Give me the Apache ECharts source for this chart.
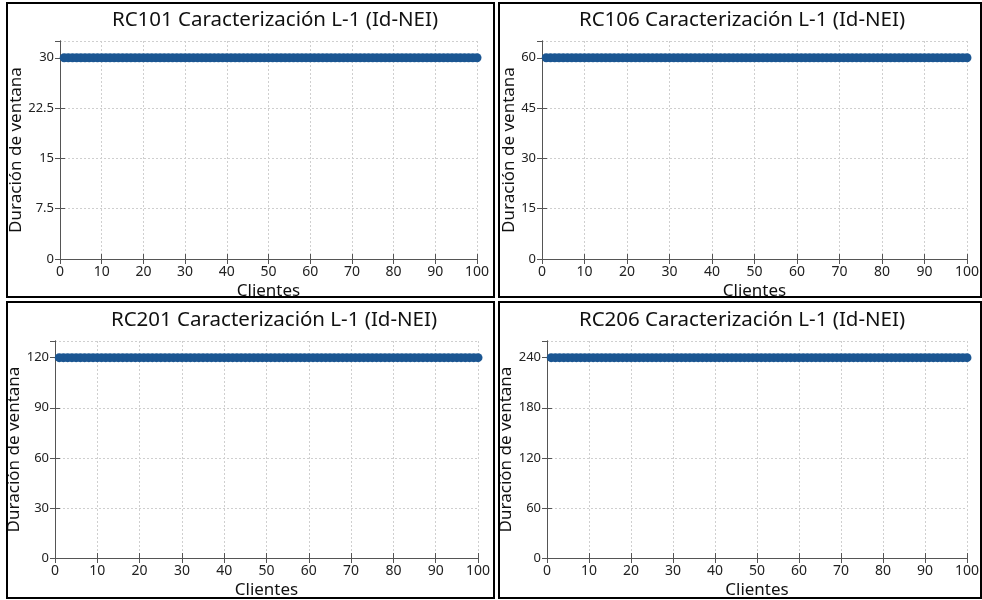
<!DOCTYPE html>
<html><head><meta charset="utf-8">
<script src="https://cdn.jsdelivr.net/npm/echarts@6/dist/echarts.min.js"></script>
<style>html,body{margin:0;padding:0;background:#fff}#c{width:982px;height:600px}</style>
</head><body><div id="c"></div>
<script>
const clientes = [1,2,3,4,5,6,7,8,9,10,11,12,13,14,15,16,17,18,19,20,21,22,23,24,25,26,27,28,29,30,31,32,33,34,35,36,37,38,39,40,41,42,43,44,45,46,47,48,49,50,51,52,53,54,55,56,57,58,59,60,61,62,63,64,65,66,67,68,69,70,71,72,73,74,75,76,77,78,79,80,81,82,83,84,85,86,87,88,89,90,91,92,93,94,95,96,97,98,99,100];
const rc101 = [30,30,30,30,30,30,30,30,30,30,30,30,30,30,30,30,30,30,30,30,30,30,30,30,30,30,30,30,30,30,30,30,30,30,30,30,30,30,30,30,30,30,30,30,30,30,30,30,30,30,30,30,30,30,30,30,30,30,30,30,30,30,30,30,30,30,30,30,30,30,30,30,30,30,30,30,30,30,30,30,30,30,30,30,30,30,30,30,30,30,30,30,30,30,30,30,30,30,30,30];
const rc106 = [60,60,60,60,60,60,60,60,60,60,60,60,60,60,60,60,60,60,60,60,60,60,60,60,60,60,60,60,60,60,60,60,60,60,60,60,60,60,60,60,60,60,60,60,60,60,60,60,60,60,60,60,60,60,60,60,60,60,60,60,60,60,60,60,60,60,60,60,60,60,60,60,60,60,60,60,60,60,60,60,60,60,60,60,60,60,60,60,60,60,60,60,60,60,60,60,60,60,60,60];
const rc201 = [120,120,120,120,120,120,120,120,120,120,120,120,120,120,120,120,120,120,120,120,120,120,120,120,120,120,120,120,120,120,120,120,120,120,120,120,120,120,120,120,120,120,120,120,120,120,120,120,120,120,120,120,120,120,120,120,120,120,120,120,120,120,120,120,120,120,120,120,120,120,120,120,120,120,120,120,120,120,120,120,120,120,120,120,120,120,120,120,120,120,120,120,120,120,120,120,120,120,120,120];
const rc206 = [240,240,240,240,240,240,240,240,240,240,240,240,240,240,240,240,240,240,240,240,240,240,240,240,240,240,240,240,240,240,240,240,240,240,240,240,240,240,240,240,240,240,240,240,240,240,240,240,240,240,240,240,240,240,240,240,240,240,240,240,240,240,240,240,240,240,240,240,240,240,240,240,240,240,240,240,240,240,240,240,240,240,240,240,240,240,240,240,240,240,240,240,240,240,240,240,240,240,240,240];
const titles = ['RC101 Caracterización L-1 (Id-NEI)','RC106 Caracterización L-1 (Id-NEI)','RC201 Caracterización L-1 (Id-NEI)','RC206 Caracterización L-1 (Id-NEI)'];
const seriesData = [rc101, rc106, rc201, rc206];
const yMax = [32.5, 65, 130, 260];
const yInterval = [7.5, 15, 30, 60];
const xName = 'Clientes';
const yName = 'Duración de ventana';

const FONT = 'Noto Sans';
const grids = [
  {left:60, top:41, width:417, height:218},
  {left:542, top:41, width:427, height:218},
  {left:55, top:341, width:423, height:218},
  {left:547, top:341, width:423, height:218}
];
const yNameGap = [33, 22, 28, 27];
const panels = [
  {x:7,y:3,w:487,h:294, tx:275, ty:20},
  {x:499,y:3,w:482,h:294, tx:742, ty:20},
  {x:7,y:302,w:487,h:296, tx:274, ty:320},
  {x:499,y:302,w:482,h:296, tx:742, ty:320}
];
const gridLine = {show:true, lineStyle:{color:'#cfcfcf', type:[2,2], width:1}};
const axLine = {show:true, lineStyle:{color:'#555', width:1}};
const option = {animation:false, grid:[], xAxis:[], yAxis:[], series:[], graphic:[]};
for (let i=0;i<4;i++){
  option.grid.push(Object.assign({containLabel:false}, grids[i]));
  option.xAxis.push({type:'value', gridIndex:i, min:0, max:100, interval:10,
    name:xName, nameLocation:'middle', nameGap:24,
    nameTextStyle:{fontFamily:FONT, fontSize:17, color:'#111'},
    axisLine:axLine, axisTick:{show:true, inside:true, length:5, lineStyle:{color:'#555'}},
    axisLabel:{fontFamily:FONT, fontSize:14, color:'#222', margin:6},
    splitLine:gridLine});
  option.xAxis.push({type:'value', gridIndex:i, position:'top', min:0, max:100, interval:10,
    axisLine:axLine, axisTick:{show:true, inside:true, length:5, lineStyle:{color:'#555'}},
    axisLabel:{show:false}, splitLine:{show:false}});
  option.yAxis.push({type:'value', gridIndex:i, min:0, max:yMax[i], interval:yInterval[i],
    name:yName, nameLocation:'middle', nameGap: yNameGap[i],
    nameTextStyle:{fontFamily:FONT, fontSize:17, color:'#111'},
    axisLine:axLine, axisTick:{show:true, inside:true, length:5, lineStyle:{color:'#555'}},
    axisLabel:{fontFamily:FONT, fontSize:13, color:'#222', margin:6, showMaxLabel:false},
    splitLine:gridLine});
  option.yAxis.push({type:'value', gridIndex:i, position:'right', min:0, max:yMax[i], interval:yInterval[i],
    axisLine:axLine, axisTick:{show:true, inside:true, length:5, lineStyle:{color:'#555'}},
    axisLabel:{show:false}, splitLine:{show:false}});
  option.series.push({type:'line', xAxisIndex:2*i, yAxisIndex:2*i,
    data: clientes.map((c,k)=>[c, seriesData[i][k]]),
    symbol:'circle', symbolSize:9, showSymbol:true,
    lineStyle:{color:'#1b5692', width:7},
    itemStyle:{color:'#1b5692', borderWidth:0}, clip:false});
  const p = panels[i];
  option.graphic.push({type:'rect', shape:{x:p.x, y:p.y, width:p.w, height:p.h},
    style:{fill:'none', stroke:'#000', lineWidth:2}, z:100});
  option.graphic.push({type:'text', x:p.tx, y:p.ty,
    style:{text:titles[i], fontFamily:FONT, fontSize:20.5, fill:'#111', align:'center', verticalAlign:'middle'}, z:100});
}
const chart = echarts.init(document.getElementById('c'), null, {renderer:'canvas'});
chart.setOption(option);
</script></body></html>
